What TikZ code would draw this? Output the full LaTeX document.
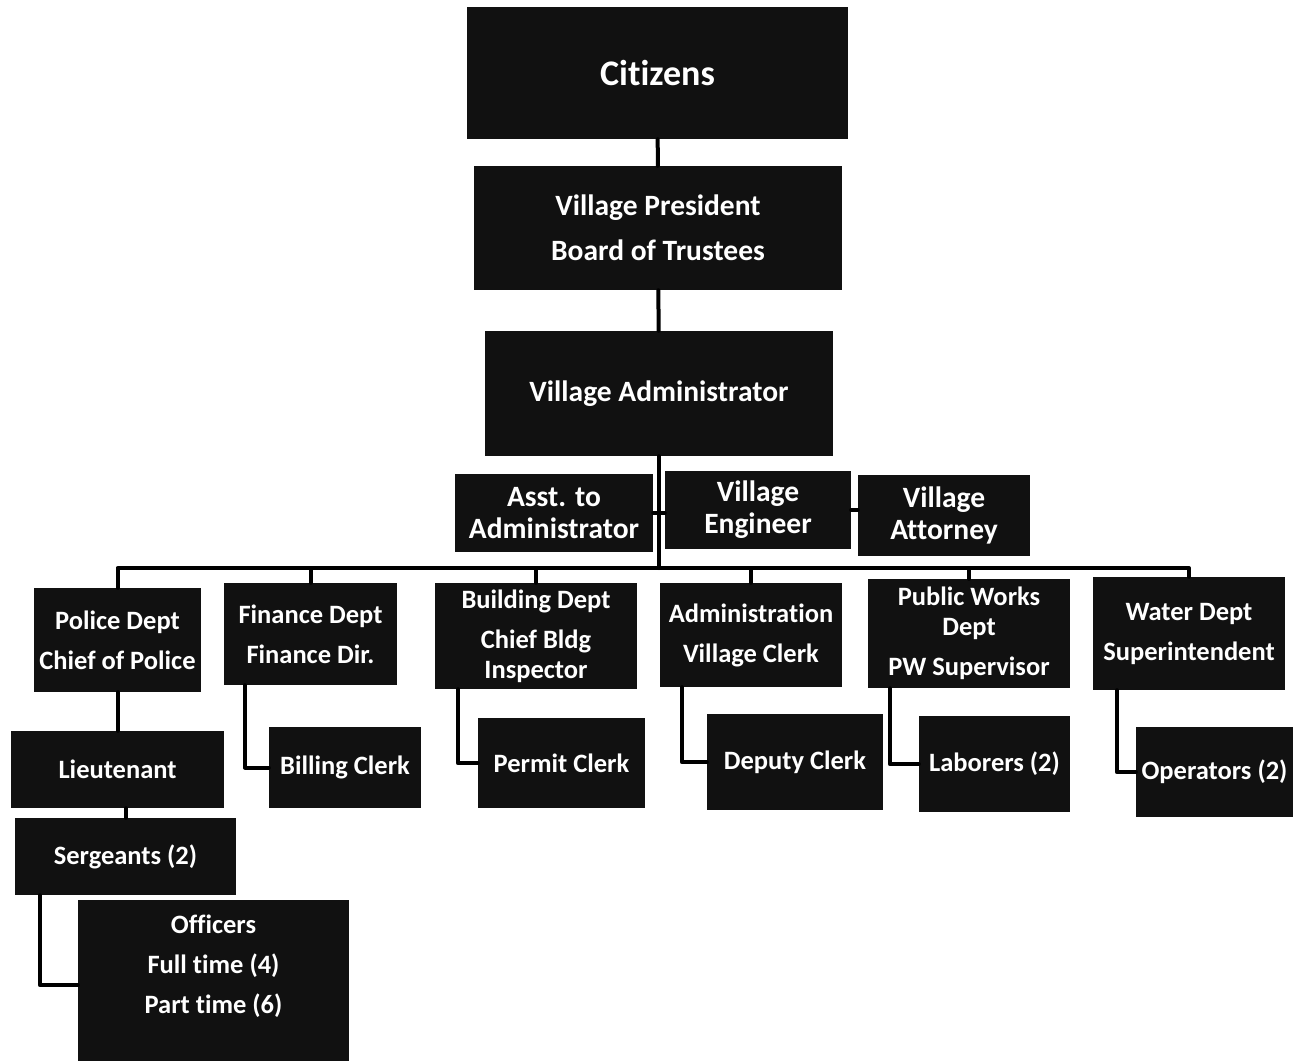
\documentclass[tikz,border=0pt]{standalone}
\usepackage{fontspec}
\setmainfont{Carlito}[Ligatures=NoCommon]
\definecolor{boxfill}{RGB}{17,17,17}
\begin{document}
\begin{tikzpicture}[x=1pt, y=-1pt, line join=round, line cap=round,
	box/.style={fill=boxfill, text=white, align=center, inner sep=0pt, font=\bfseries\fontsize{26.5}{40}\selectfont},
	top/.style={box, font=\bfseries\fontsize{29.5}{45}\selectfont},
	side/.style={box, font=\bfseries\fontsize{29.5}{32}\selectfont},
	sz/.style 2 args={minimum width=#1, minimum height=#2},
	link/.style={draw=black, line width=4pt}]
	\useasboundingbox (0,0) rectangle (1295,1060);
	% top of the chart
	\node[top, sz={381}{132}, font=\bfseries\fontsize{36}{40}\selectfont] (citizens) at (657.5,73) {Citizens};
	\node[top, sz={368}{124}] (president) at (658,228) {Village President\\Board of Trustees};
	\node[top, sz={348}{125}] (admin) at (659,393.5) {Village Administrator};
	\node[side, sz={198}{78}] (asst) at (554,513) {Asst. to\\Administrator};
	\node[side, sz={186}{78}] (engineer) at (758,510) {Village\\Engineer};
	\node[side, sz={172}{81}] (attorney) at (944,515.5) {Village\\Attorney};
	% departments
	\node[box, sz={167}{104}] (police) at (117.5,640) {Police Dept\\Chief of Police};
	\node[box, sz={173}{102}] (finance) at (310.5,634) {Finance Dept\\Finance Dir.};
	\node[box, sz={202}{106}, font=\bfseries\fontsize{26.5}{30}\selectfont] (building) at (536,636) {Building Dept\\[10pt]Chief Bldg\\Inspector};
	\node[box, sz={182}{104}] (clerk) at (751,635) {Administration\\Village Clerk};
	\node[box, sz={202}{109}, font=\bfseries\fontsize{26.5}{30}\selectfont] (works) at (969,633.5) {Public Works\\Dept\\[10pt]PW Supervisor};
	\node[box, sz={192}{113}] (water) at (1189,633.5) {Water Dept\\Superintendent};
	% staff
	\node[box, sz={213}{77}] (lieutenant) at (117.5,769.5) {Lieutenant};
	\node[box, sz={221}{77}] (sergeants) at (125.5,856.5) {Sergeants (2)};
	\node[box, sz={271}{170}, anchor=north] (officers) at (213.5,900) {};
	\node[box, fill=none] (officerstext) at ([yshift=-66pt]officers.north) {Officers\\Full time (4)\\Part time (6)};
	\node[box, sz={152}{81}] (billing) at (345,767.5) {Billing Clerk};
	\node[box, sz={167}{90}] (permit) at (561.5,763) {Permit Clerk};
	\node[box, sz={176}{96}] (deputy) at (795,762) {Deputy Clerk};
	\node[box, sz={151}{96}] (laborers) at (994.5,764) {Laborers (2)};
	\node[box, sz={157}{90}] (operators) at (1214.5,772) {Operators (2)};
	\coordinate (bus) at (658,568);
	\path[link] (citizens) -- (president);
	\path[link] (president) -- (admin);
	\path[link] (admin.south) -- (admin.south |- bus);
	\path[link] (asst.east) -- (asst.east -| engineer.west);
	\path[link] (engineer.east) -- (engineer.east -| attorney.west);
	\path[link] (police.north) -- (police.north |- bus) -- (water.north |- bus) -- (water.north);
	\foreach \d in {finance,building,clerk,works}
		\path[link] (\d.north) -- (\d.north |- bus);
	\path[link] (police) -- (lieutenant);
	\path[link] (sergeants.north) -- (sergeants.north |- lieutenant.south);
	\path[link] ([xshift=25pt]sergeants.south west) |- (officers.west);
	\path[link] ([xshift=21pt]finance.south west) |- (billing.west);
	\path[link] ([xshift=23pt]building.south west) |- (permit.west);
	\path[link] ([xshift=22pt]clerk.south west) |- (deputy.west);
	\path[link] ([xshift=22pt]works.south west) |- (laborers.west);
	\path[link] ([xshift=24pt]water.south west) |- (operators.west);
\end{tikzpicture}
\end{document}
